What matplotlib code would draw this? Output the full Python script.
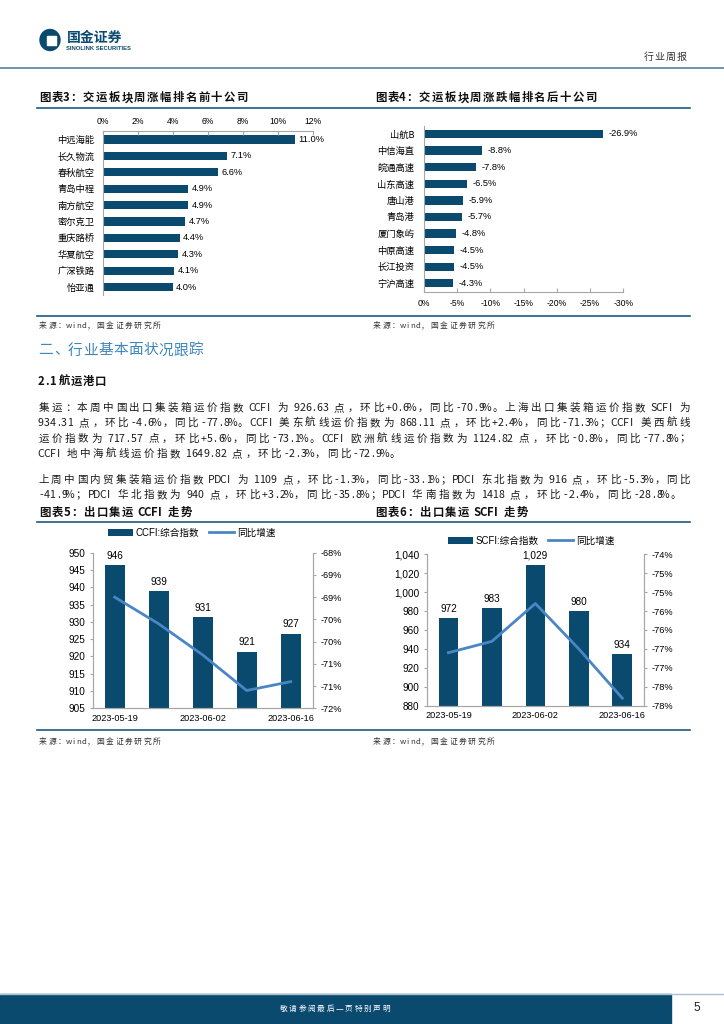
import matplotlib
matplotlib.use('Agg')
import matplotlib.pyplot as plt
import numpy as np
from matplotlib.patches import Rectangle, Ellipse, Patch
from matplotlib.lines import Line2D
from matplotlib.ticker import FuncFormatter

plt.rcParams['font.family'] = ['Liberation Sans', 'Noto Sans CJK SC', 'DejaVu Sans']

W, H = 724, 1024
NAVY = '#0b4a6f'
LINE_BLUE = '#4a86c5'
RULE = '#1d5a80'
SPINE = '#a6a6a6'
CJK = ['Noto Sans CJK SC', 'DejaVu Sans']

# ---- data ----
top_names = ['中远海能', '长久物流', '春秋航空', '青岛中程', '南方航空',
             '密尔克卫', '重庆路桥', '华夏航空', '广深铁路', '怡亚通']
top_vals = [11.0, 7.1, 6.6, 4.9, 4.9, 4.7, 4.4, 4.3, 4.1, 4.0]

bot_names = ['山航B', '中信海直', '皖通高速', '山东高速', '唐山港',
             '青岛港', '厦门象屿', '中原高速', '长江投资', '宁沪高速']
bot_vals = [-26.9, -8.8, -7.8, -6.5, -5.9, -5.7, -4.8, -4.5, -4.5, -4.3]

dates = ['2023-05-19', '2023-05-26', '2023-06-02', '2023-06-09', '2023-06-16']
ccfi = [946.3, 938.9, 931.4, 921.4, 926.6]
ccfi_yoy = [-69.0, -69.6, -70.3, -71.1, -70.9]
scfi = [972.3, 983.4, 1029.2, 980.1, 934.3]
scfi_yoy = [-76.6, -76.3, -75.3, -76.5, -77.8]

para1 = [
    '集运：本周中国出口集装箱运价指数 CCFI 为 926.63 点，环比+0.6%，同比-70.9%。上海出口集装箱运价指数 SCFI 为',
    '934.31 点，环比-4.6%，同比-77.8%。CCFI 美东航线运价指数为 868.11 点，环比+2.4%，同比-71.3%；CCFI 美西航线',
    '运价指数为 717.57 点，环比+5.6%，同比-73.1%。CCFI 欧洲航线运价指数为 1124.82 点，环比-0.8%，同比-77.8%；',
    'CCFI 地中海航线运价指数 1649.82 点，环比-2.3%，同比-72.9%。',
]
para2 = [
    '上周中国内贸集装箱运价指数 PDCI 为 1109 点，环比-1.3%，同比-33.1%；PDCI 东北指数为 916 点，环比-5.3%，同比',
    '-41.9%；PDCI 华北指数为 940 点，环比+3.2%，同比-35.8%；PDCI 华南指数为 1418 点，环比-2.4%，同比-28.8%。',
]

fig = plt.figure(figsize=(7.24, 10.24), dpi=100)


def axes_px(l, t, r, b):
    return fig.add_axes([l / W, 1 - b / H, (r - l) / W, (b - t) / H])


def hline(x0, x1, y, color=RULE, lw=1.2):
    fig.add_artist(Line2D([x0 / W, x1 / W], [1 - y / H] * 2, color=color, lw=lw))


def put(x0, y, s, size, cjk=None, asc=None, width=None, **kw):
    # places characters one by one on a grid, optionally justified to width
    em = size * 100 / 72
    cjk = cjk or em
    asc = asc or em * 0.5
    cells = [asc * 0.6 if c == ' ' else (asc if ord(c) < 128 else cjk) for c in s]
    # extra space goes mostly between CJK characters, never inside latin runs
    stretch = [0.0] * len(s)
    for i in range(len(s) - 1):
        a, b = s[i], s[i + 1]
        if a == ' ' or b == ' ':
            stretch[i] = 0.5
        elif ord(a) < 128 and ord(b) < 128:
            stretch[i] = 0.0
        else:
            stretch[i] = 1.0
    gap = 0
    if width is not None and sum(stretch) > 0:
        gap = (width - sum(cells)) / sum(stretch)
    base = y + 0.37 * em
    x = x0
    for c, w, k in zip(s, cells, stretch):
        if c != ' ':
            if c in '，。：；、':
                fig.text((x + 0.08 * w) / W, 1 - base / H, c, fontsize=size,
                         ha='left', va='baseline', family=CJK, **kw)
            else:
                fig.text((x + w / 2) / W, 1 - base / H, c, fontsize=size,
                         ha='center', va='baseline', family=CJK, **kw)
        x += w + gap * k


def pct_round(v, p):
    r = np.sign(v) * np.floor(abs(v) + 0.5)
    return f'{r:.0f}%'


# ---- header ----
fig.add_artist(Ellipse((50 / W, 1 - 40 / H), 20 / W, 21 / H, color=NAVY,
                       transform=fig.transFigure))
fig.add_artist(Rectangle((47 / W, 1 - 45 / H), 9 / W, 9 / H, color='white',
                         transform=fig.transFigure))
fig.text(66.5 / W, 1 - 41.5 / H, '国金证券', fontsize=10, weight='bold',
         color=NAVY, family=CJK, va='baseline')
fig.text(66.5 / W, 1 - 50.5 / H, 'SINOLINK SECURITIES', fontsize=4.2,
         weight='bold', color=NAVY, va='baseline')
put(643, 56, '行业周报', 7.2, cjk=11, color='#333333')
hline(0, 724, 67.5, color='#6d93ad', lw=1.4)

# ---- chart titles / rules ----
put(38, 97, '图表3：交运板块周涨幅排名前十公司', 8.2, cjk=12.8, weight='bold', color='#111111')
put(374, 97, '图表4：交运板块周涨跌幅排名后十公司', 8.2, cjk=12.8, weight='bold', color='#111111')
hline(37, 690, 107.5)
hline(37, 690, 316)
put(38, 325, '来源：wind，国金证券研究所', 5.6, cjk=9.4, asc=5.0, color='#333333')
put(372, 325, '来源：wind，国金证券研究所', 5.6, cjk=9.4, asc=5.0, color='#333333')

# ---- chart 3 ----
ax3 = axes_px(102.7, 131.2, 312.7, 295.2)
y = np.arange(len(top_vals))
ax3.barh(y, top_vals, height=0.5, color=NAVY)
ax3.set_xlim(0, 12)
ax3.set_ylim(9.5, -0.5)
ax3.xaxis.tick_top()
ax3.set_xticks(np.arange(0, 13, 2))
ax3.xaxis.set_major_formatter(FuncFormatter(lambda v, p: f'{v:.0f}%'))
ax3.tick_params(axis='x', direction='in', length=3, color=SPINE, labelsize=6.2, pad=4)
ax3.set_yticks(y)
ax3.set_yticklabels(top_names, family=CJK)
ax3.tick_params(axis='y', length=0, labelsize=6.7, pad=6)
for s in ['right', 'bottom']:
    ax3.spines[s].set_visible(False)
for s in ['left', 'top']:
    ax3.spines[s].set_color(SPINE)
for i, v in enumerate(top_vals):
    ax3.annotate(f'{v:.1f}%', (v, i), xytext=(2.5, 0), textcoords='offset points',
                 va='center', ha='left', fontsize=6.7)

# ---- chart 4 ----
ax4 = axes_px(424, 125.7, 623.3, 291.6)
y = np.arange(len(bot_vals))
ax4.barh(y, bot_vals, height=0.5, color=NAVY)
ax4.set_xlim(0, -30)
ax4.set_ylim(9.5, -0.5)
ax4.set_xticks(np.arange(0, -31, -5))
ax4.xaxis.set_major_formatter(FuncFormatter(lambda v, p: f'{v:.0f}%'))
ax4.tick_params(axis='x', direction='in', length=3, color=SPINE, labelsize=6.2, pad=5)
ax4.set_yticks(y)
ax4.set_yticklabels(bot_names, family=CJK)
ax4.tick_params(axis='y', length=0, labelsize=6.7, pad=7)
for s in ['right', 'top']:
    ax4.spines[s].set_visible(False)
for s in ['left', 'bottom']:
    ax4.spines[s].set_color(SPINE)
for i, v in enumerate(bot_vals):
    ax4.annotate(f'{v:.1f}%', (v, i), xytext=(4, 0), textcoords='offset points',
                 va='center', ha='left', fontsize=6.7)

# ---- section text ----
put(38, 349, '二、行业基本面状况跟踪', 10.6, cjk=15, color='#3f86bd')
put(38, 381, '2.1 航运港口', 8.2, cjk=12, asc=5.8, weight='bold', color='#111111')

ys1 = [407, 422.3, 437.6, 453]
w1 = [652, 652, 652, 362]
for i, line in enumerate(para1):
    put(38, ys1[i], line, 7.6, cjk=11.0, asc=5.8, width=w1[i], color='#1a1a1a')
ys2 = [479, 494]
w2 = [652, 643]
for i, line in enumerate(para2):
    put(38, ys2[i], line, 7.6, cjk=11.0, asc=5.8, width=w2[i], color='#1a1a1a')

# ---- charts 5 / 6 titles ----
put(38, 512, '图表5：出口集运 CCFI 走势', 8.2, cjk=12.8, asc=6.4, weight='bold', color='#111111')
put(374, 512, '图表6：出口集运 SCFI 走势', 8.2, cjk=12.8, asc=6.4, weight='bold', color='#111111')
hline(37, 690, 522)
hline(37, 690, 729.5)
put(38, 741, '来源：wind，国金证券研究所', 5.6, cjk=9.4, asc=5.0, color='#333333')
put(372, 741, '来源：wind，国金证券研究所', 5.6, cjk=9.4, asc=5.0, color='#333333')


def combo(ax, vals, yoy, ylo, yhi, ystep, rlo, rhi, fmt, lsize, rsize):
    x = np.arange(len(vals))
    ax.bar(x, vals, width=0.45, color=NAVY, zorder=2)
    ax.set_xlim(-0.5, len(vals) - 0.5)
    ax.set_ylim(ylo, yhi)
    ax.set_yticks(np.arange(ylo, yhi + ystep / 2, ystep))
    ax.yaxis.set_major_formatter(FuncFormatter(lambda v, p: format(v, ',.0f')))
    ax.set_xticks([0, 2, 4])
    ax.set_xticklabels([dates[0], dates[2], dates[4]])
    ax.tick_params(axis='x', length=0, labelsize=6.6, pad=4)
    ax.tick_params(axis='y', length=2.5, color=SPINE, labelsize=lsize, pad=3)
    for i, v in enumerate(vals):
        ax.annotate(format(v, fmt), (i, v), xytext=(0, 3), textcoords='offset points',
                    ha='center', va='bottom', fontsize=7.2)
    ax2 = ax.twinx()
    ax2.plot(x, yoy, color=LINE_BLUE, lw=2, zorder=3)
    ax2.set_ylim(rlo, rhi)
    ax2.set_yticks(np.arange(rlo, rhi + 0.25, 0.5))
    ax2.yaxis.set_major_formatter(FuncFormatter(pct_round))
    ax2.tick_params(axis='y', length=2.5, color=SPINE, labelsize=rsize, pad=3)
    for a in (ax, ax2):
        a.spines['top'].set_visible(False)
        for s in ['left', 'right', 'bottom']:
            a.spines[s].set_color(SPINE)
    handles = [Patch(facecolor=NAVY), Line2D([], [], color=LINE_BLUE, lw=2)]
    return handles


ax5 = axes_px(92.7, 552.7, 312.7, 708.3)
h5 = combo(ax5, ccfi, ccfi_yoy, 905, 950, 5, -71.5, -68, '.0f', 7.2, 6.6)
fig.legend(h5, ['CCFI:综合指数', '同比增速'], loc='center',
           bbox_to_anchor=(191.5 / W, 1 - 532.7 / H), ncol=2, frameon=False,
           fontsize=6.9, handlelength=2.6, handleheight=0.8, handletextpad=0.3,
           columnspacing=1.0, borderpad=0)

ax6 = axes_px(426.7, 554.3, 644, 705.7)
h6 = combo(ax6, scfi, scfi_yoy, 880, 1040, 20, -78, -74, ',.0f', 7.2, 6.7)
fig.legend(h6, ['SCFI:综合指数', '同比增速'], loc='center',
           bbox_to_anchor=(531 / W, 1 - 540.7 / H), ncol=2, frameon=False,
           fontsize=6.9, handlelength=2.6, handleheight=0.8, handletextpad=0.3,
           columnspacing=1.0, borderpad=0)

# ---- footer ----
hline(0, 724, 993.5, color='#a9c1d3', lw=1)
fig.add_artist(Rectangle((0, 0), 670.7 / W, 30 / H, color=NAVY,
                         transform=fig.transFigure))
put(279, 1008, '敬请参阅最后一页特别声明', 5.5, cjk=9.3, color='white')
fig.text(697 / W, 1 - 1008 / H, '5', fontsize=8.5, ha='center', va='center',
         color='#222222')

fig.savefig('out.png', dpi=100)
